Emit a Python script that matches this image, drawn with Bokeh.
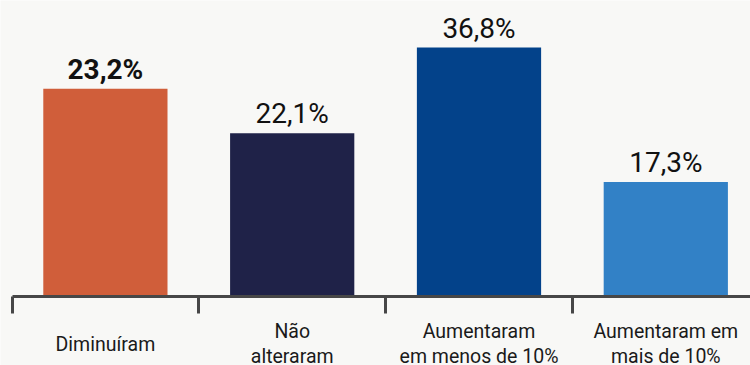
from bokeh.plotting import figure
from bokeh.models import ColumnDataSource, Range1d, LinearAxis, FixedTicker
from bokeh.core.properties import value
from bokeh.embed import file_html
from bokeh.resources import INLINE

# ---- data ----
categories = ["Diminuíram", "Não\nalteraram", "Aumentaram\nem menos de 10%", "Aumentaram em\nmais de 10%"]
value_labels = ["23,2%", "22,1%", "36,8%", "17,3%"]
values = [23.2, 22.1, 36.8, 17.3]
# drawn bar lengths as they appear in the picture (same units as the tallest bar, 36.8)
bar_heights = [30.7, 24.1, 36.8, 16.9]
colors = ["#D05E3A", "#1F2248", "#03428A", "#3281C6"]
label_styles = ["bold", "normal", "normal", "normal"]

BG = "#F8F8F6"
n = len(categories)
centers = [i + 0.5 for i in range(n)]
zeros = [0] * n

src = ColumnDataSource(dict(x=centers, top=bar_heights, color=colors,
                            lab=value_labels, style=label_styles))
cat_src = ColumnDataSource(dict(x=centers, y=zeros, cat=categories))

PX_PER_UNIT = 248.5 / 36.8
p = figure(width=750, height=365, output_backend="svg", toolbar_location=None,
           x_axis_location=None, y_axis_location=None,
           x_range=Range1d(-11.5 / 186.8, (750 - 11.5) / 186.8),
           y_range=Range1d(-(365 - 295.5) / PX_PER_UNIT, 295.5 / PX_PER_UNIT),
           min_border=0,
           background_fill_color=BG, border_fill_color=BG, outline_line_color=None)
p.grid.visible = False

p.vbar(x="x", top="top", width=0.665, bottom=0, color="color", line_color=None, source=src)

p.text(x="x", y="top", text="lab", source=src, text_align="center", text_baseline="bottom",
       y_offset=-3, text_font=value("Roboto"), text_font_size="28px", text_font_style="style",
       text_color="#111111")

p.text(x="x", y="y", text="cat", source=cat_src, text_align="center", text_baseline="middle",
       y_offset=48, text_font=value("Roboto"), text_font_size="19.5px",
       text_line_height=1.13, text_color="#1a1a1a")

# category boundaries drawn as (minor) ticks on an axis fixed at y = 0
ax = LinearAxis(ticker=FixedTicker(ticks=[], minor_ticks=list(range(n + 1))),
                bounds=(0, n), fixed_location=0)
ax.axis_line_color = "#474747"
ax.axis_line_width = 3
ax.major_tick_out = 0
ax.major_tick_in = 0
ax.minor_tick_out = 17
ax.minor_tick_in = 0
ax.minor_tick_line_color = "#474747"
ax.minor_tick_line_width = 3
p.add_layout(ax, "below")

open("out.html", "w").write(file_html(p, INLINE))
